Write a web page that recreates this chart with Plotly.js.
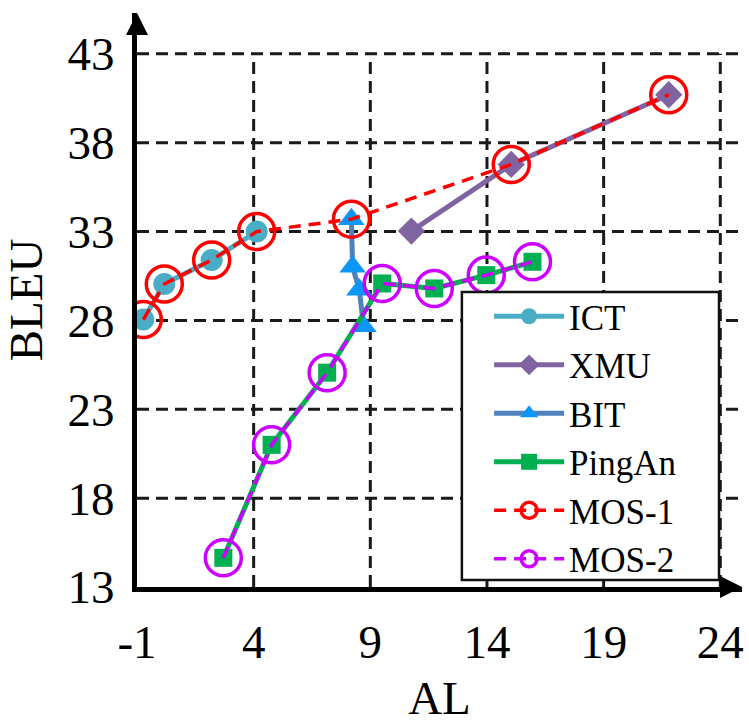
<!DOCTYPE html>
<html><head><meta charset="utf-8">
<script src="https://cdn.plot.ly/plotly-3.0.1.min.js"></script>
<style>html,body{margin:0;padding:0;background:#fff}</style>
</head><body><div id="chart" style="width:749px;height:724px"></div>
<script>
// ---- data ----
const ictX = [-0.73, 0.17, 2.2, 4.13];
const ictY = [28.05, 30.05, 31.4, 33.0];
const xmuX = [10.76, 15.04, 21.79];
const xmuY = [33.03, 36.78, 40.7];
const bitX = [8.19, 8.24, 8.53, 8.71];
const bitY = [33.7, 31.02, 29.72, 27.67];
const pingX = [2.7, 4.77, 7.15, 9.51, 11.74, 13.97, 15.95];
const pingY = [14.64, 21.0, 25.06, 30.08, 29.8, 30.55, 31.3];
const mos1X = [-0.73, 0.17, 2.2, 4.13, 8.19, 15.04, 21.79];
const mos1Y = [28.05, 30.05, 31.4, 33.0, 33.7, 36.78, 40.7];
const mos2X = [2.7, 4.77, 7.15, 9.51, 11.74, 13.97, 15.95];
const mos2Y = [14.64, 21.0, 25.06, 30.08, 29.8, 30.55, 31.3];
const xTicks = [-1, 4, 9, 14, 19, 24];
const yTicks = [13, 18, 23, 28, 33, 38, 43];

const FONT = '"Liberation Serif", "Times New Roman", Times, serif';
const xMax = 24.93, yMax = 45.3;

const traces = [
  {name:'ICT', x:ictX, y:ictY, mode:'lines+markers', line:{color:'#4BACC6', width:5},
   marker:{symbol:'circle', size:22, color:'#4BACC6'}},
  {name:'XMU', x:xmuX, y:xmuY, mode:'lines+markers', line:{color:'#8064A2', width:5},
   marker:{symbol:'diamond', size:21, color:'#8064A2'}},
  {name:'BIT', x:bitX, y:bitY, mode:'lines+markers', line:{color:'#4F81BD', width:5},
   marker:{symbol:'triangle-up', size:23, color:'#0B96F8'}},
  {name:'PingAn', x:pingX, y:pingY, mode:'lines+markers', line:{color:'#00B050', width:5},
   marker:{symbol:'square', size:18, color:'#00B050'}},
  {name:'MOS-1', x:mos1X, y:mos1Y, mode:'lines+markers', line:{color:'#FF0000', width:3.5, dash:'12px,8px'},
   marker:{symbol:'circle-open', size:36, color:'#FF0000', line:{width:3.5}}},
  {name:'MOS-2', x:mos2X, y:mos2Y, mode:'lines+markers', line:{color:'#CC00FF', width:3.5, dash:'12px,8px'},
   marker:{symbol:'circle-open', size:36, color:'#CC00FF', line:{width:3.5}}}
];

const shapes = [];
xTicks.slice(1).forEach(v => shapes.push({type:'line', xref:'x', yref:'y', x0:v, x1:v, y0:yTicks[0], y1:yTicks[yTicks.length-1],
  line:{color:'#1a1a1a', width:3, dash:'12px,7px'}, layer:'below'}));
yTicks.slice(1).forEach(v => shapes.push({type:'line', xref:'x', yref:'y', x0:xTicks[0], x1:xMax, y0:v, y1:v,
  line:{color:'#1a1a1a', width:3, dash:'12px,7px'}, layer:'below'}));
// legend frame
shapes.push({type:'rect', xref:'paper', yref:'paper', x0:0.537, x1:0.962, y0:0.012, y1:0.514,
  fillcolor:'#fff', line:{color:'#111', width:2.5}, layer:'above'});

const layout = {
  width:749, height:724,
  margin:{l:137, r:7, t:13, b:137},
  paper_bgcolor:'#fff', plot_bgcolor:'#fff',
  font:{family:FONT, color:'#000', size:46},
  showlegend:true,
  xaxis:{range:[-1, xMax], tickvals:xTicks, ticktext:xTicks.map(String), showgrid:false, zeroline:false,
    showline:true, linecolor:'#000', linewidth:5, ticks:'', ticklabelstandoff:10,
    tickfont:{family:FONT, size:47}, title:{text:'AL', font:{family:FONT, size:47}, standoff:38}},
  yaxis:{range:[13, yMax], tickvals:yTicks, ticktext:yTicks.map(String), showgrid:false, zeroline:false,
    showline:true, linecolor:'#000', linewidth:5, ticks:'', ticklabelstandoff:8,
    tickfont:{family:FONT, size:47}, title:{text:'BLEU', font:{family:FONT, size:47}, standoff:12}},
  legend:{x:0.582, y:0.5226, xanchor:'left', yanchor:'top', bgcolor:'rgba(0,0,0,0)', borderwidth:0,
    font:{family:FONT, size:35, color:'#000'}, tracegroupgap:0, itemwidth:70},
  shapes:shapes,
  annotations:[
    {x:xMax, y:13, ax:xMax-0.9, ay:13, xref:'x', yref:'y', axref:'x', ayref:'y', text:'', showarrow:true,
     arrowhead:2, arrowsize:1.1, arrowwidth:4, arrowcolor:'#000'},
    {x:-1, y:yMax, ax:-1, ay:yMax-1.2, xref:'x', yref:'y', axref:'x', ayref:'y', text:'', showarrow:true,
     arrowhead:2, arrowsize:1.1, arrowwidth:4, arrowcolor:'#000'}
  ]
};
Plotly.newPlot('chart', traces, layout, {displayModeBar:false, staticPlot:true});
</script></body></html>
